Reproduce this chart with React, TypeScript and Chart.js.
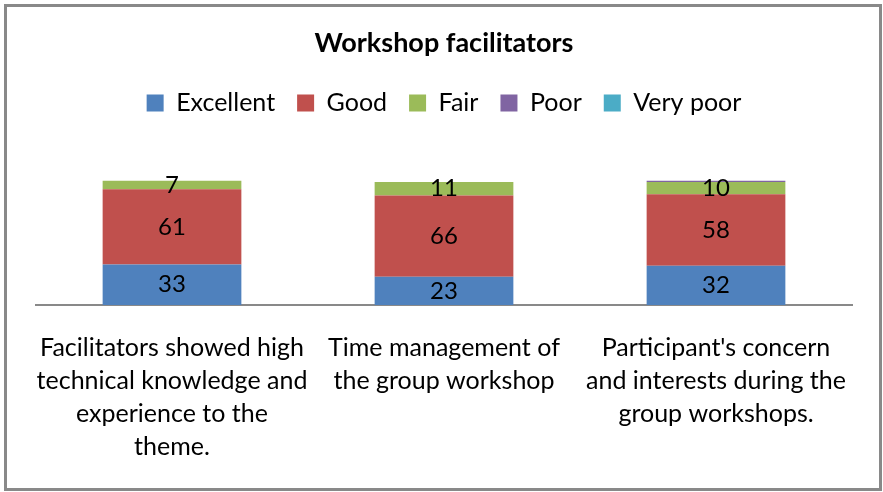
import React, { useEffect, useRef } from "react";
import { Chart, registerables } from "chart.js";

Chart.register(...registerables);

const categories: string[][] = [
  ["Facilitators showed high", "technical knowledge and", "experience to the", "theme."],
  ["Time management of", "the group workshop"],
  ["Participant's concern", "and interests during the", "group workshops."],
];
const seriesNames = ["Excellent", "Good", "Fair", "Poor", "Very poor"];
const excellent = [33, 23, 32];
const good = [61, 66, 58];
const fair = [7, 11, 10];
const poor = [0, 0, 1];
const veryPoor = [0, 0, 0];
const colors = ["#4F81BD", "#C0504D", "#9BBB59", "#8064A2", "#4BACC6"];

const FONT = "Lato, 'Open Sans', sans-serif";

const frame = {
  id: "frame",
  beforeDraw(chart: any) {
    const ctx = chart.ctx;
    ctx.save();
    ctx.fillStyle = "#ffffff";
    ctx.fillRect(0, 0, chart.width, chart.height);
    ctx.strokeStyle = "#898989";
    ctx.lineWidth = 3;
    ctx.strokeRect(5.5, 5.5, 875, 484);
    ctx.restore();
  },
};

const valueLabels = {
  id: "valueLabels",
  afterDatasetsDraw(chart: any) {
    const ctx = chart.ctx;
    ctx.save();
    ctx.font = `24px ${FONT}`;
    ctx.fillStyle = "#000000";
    ctx.textAlign = "center";
    ctx.textBaseline = "middle";
    chart.data.datasets.forEach((ds: any, di: number) => {
      const meta = chart.getDatasetMeta(di);
      meta.data.forEach((el: any, i: number) => {
        const v = ds.data[i];
        if (v < 2) return;
        const y = (el.y + el.base) / 2;
        ctx.fillText(String(v), el.x, y);
      });
    });
    ctx.restore();
  },
};

export default function App() {
  const ref = useRef<HTMLCanvasElement>(null);
  useEffect(() => {
    if (!ref.current) return;
    const allSeries = [excellent, good, fair, poor, veryPoor];
    const chart = new Chart(ref.current, {
      type: "bar",
      data: {
        labels: categories,
        datasets: allSeries.map((d, i) => ({
          label: seriesNames[i],
          data: d,
          backgroundColor: colors[i],
          borderWidth: 0,
          categoryPercentage: 1,
          barPercentage: 0.51,
        })),
      },
      options: {
        responsive: false,
        animation: false,
        devicePixelRatio: 1,
        layout: { padding: { left: 36, right: 31, top: 0, bottom: 3 } },
        plugins: {
          title: {
            display: true,
            text: "Workshop facilitators",
            color: "#000000",
            font: { family: FONT, size: 27, weight: "bold", lineHeight: 1.2 },
            padding: { top: 27, bottom: 9 },
          },
          legend: {
            display: true,
            labels: {
              color: "#000000",
              font: { family: FONT, size: 25 },
              boxWidth: 17,
              boxHeight: 17,
              padding: 22,
            },
          },
          tooltip: { enabled: false },
        },
        scales: {
          x: {
            stacked: true,
            grid: { display: false, drawTicks: false },
            border: { display: true, color: "#898989", width: 2 },
            ticks: {
              color: "#000000",
              font: { family: FONT, size: 25, lineHeight: 1.32 },
              padding: 26,
              maxRotation: 0,
              autoSkip: false,
            },
          },
          y: {
            stacked: true,
            display: false,
            min: 0,
            max: 146,
          },
        },
      },
      plugins: [frame, valueLabels],
    });
    return () => chart.destroy();
  }, []);
  return (
    <div style={{ position: "fixed", left: 0, top: 0, width: 883, height: 492 }}>
      <canvas ref={ref} width={883} height={492} style={{ width: 883, height: 492, display: "block" }} />
    </div>
  );
}
